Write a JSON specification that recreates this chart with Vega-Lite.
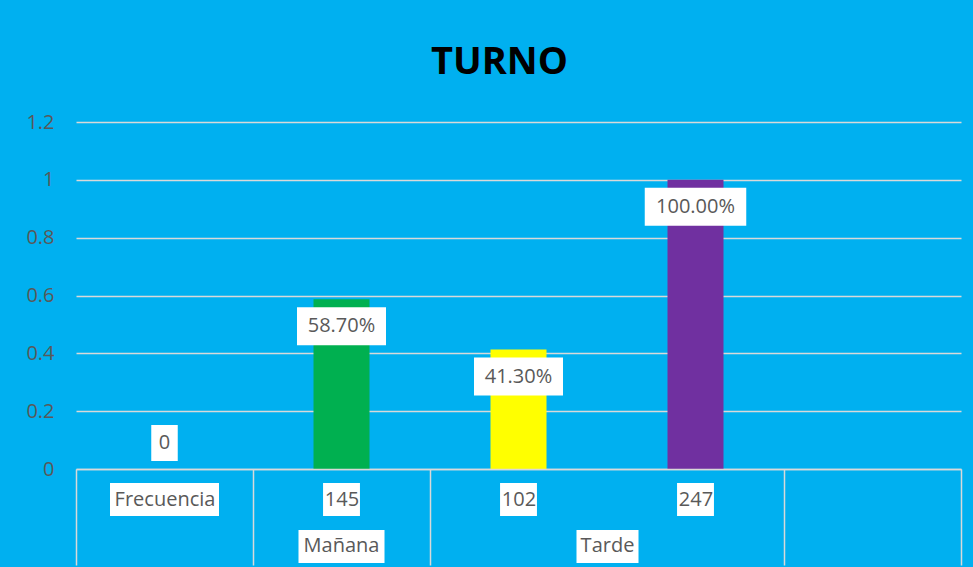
{
  "$schema": "https://vega.github.io/schema/vega-lite/v6.json",
  "autosize": {"type": "none"},
  "width": 885,
  "height": 347,
  "padding": {"left": 76, "top": 122, "right": 12, "bottom": 98},
  "background": "#00B0F0",
  "config": {"view": {"stroke": null}, "font": "Open Sans"},
  "title": {"text": "TURNO", "font": "Open Sans", "fontSize": 38, "fontWeight": "bold", "color": "#000000", "anchor": "middle", "dx": -19, "baseline": "alphabetic", "offset": 0},
  "data": {
    "values": [
      {"cat": "Frecuencia", "turno": "", "value": 0, "label": "0"},
      {"cat": "145", "turno": "Mañana", "value": 0.587, "label": "58.70%"},
      {"cat": "102", "turno": "Tarde", "value": 0.413, "label": "41.30%"},
      {"cat": "247", "turno": "Tarde", "value": 1.0, "label": "100.00%"}
    ]
  },
  "encoding": {
    "x": {
      "field": "cat", "type": "nominal", "sort": null,
      "scale": {"domain": ["Frecuencia", "145", "102", "247", " "], "paddingInner": 0, "paddingOuter": 0},
      "axis": {
        "title": null, "zindex": 1, "labelAngle": 0, "labelOverlap": false,
        "domainColor": "#D9D9D9", "domainWidth": 1.5,
        "tickBand": "extent", "tickSize": 96, "tickWidth": 1.5,
        "tickColor": {"condition": {"test": "datum.value === '102'", "value": "transparent"}, "value": "#D9D9D9"},
        "labelFont": "Open Sans", "labelFontSize": 20, "labelColor": "#595959",
        "labelBaseline": "middle", "labelPadding": -66
      }
    },
    "y": {
      "field": "value", "type": "quantitative",
      "scale": {"domain": [0, 1.2], "nice": false},
      "axis": {
        "title": null, "values": [0, 0.2, 0.4, 0.6, 0.8, 1, 1.2], "format": "~g",
        "domain": false, "ticks": false, "labelPadding": 22,
        "labelFont": "Open Sans", "labelFontSize": 20, "labelColor": "#595959",
        "gridColor": "#D9D9D9", "gridWidth": 1.5
      }
    }
  },
  "layer": [
    {
      "mark": {"type": "bar", "width": 56},
      "encoding": {
        "color": {"field": "cat", "type": "nominal", "scale": {"domain": ["Frecuencia", "145", "102", "247"], "range": ["#00B0F0", "#00B050", "#FFFF00", "#7030A0"]}, "legend": null}
      }
    },
    {
      "mark": {"type": "bar", "color": "#FFFFFF",
        "width": {"expr": "length(datum.label)*12.5+14"},
        "yOffset": {"expr": "datum.value > 0 ? 8 : -44"},
        "y2Offset": {"expr": "datum.value > 0 ? 46 : -8"}},
      "encoding": {"y2": {"field": "value"}}
    },
    {
      "mark": {"type": "text", "font": "Open Sans", "fontSize": 20, "color": "#595959", "baseline": "middle",
        "yOffset": {"expr": "datum.value > 0 ? 27 : -26"}},
      "encoding": {"text": {"field": "label"}}
    },
    {
      "mark": {"type": "bar", "color": "#FFFFFF",
        "width": {"expr": "length(datum.cat)*10.3+6"},
        "yOffset": 14, "y2Offset": 47},
      "encoding": {"y": {"datum": 0}, "y2": {"datum": 0}}
    },
    {
      "transform": [{"filter": "datum.cat === '145'"}],
      "mark": {"type": "bar", "color": "#FFFFFF", "width": 86, "yOffset": 61, "y2Offset": 94},
      "encoding": {"y": {"datum": 0}, "y2": {"datum": 0}}
    },
    {
      "transform": [{"filter": "datum.cat === '102'"}],
      "mark": {"type": "bar", "color": "#FFFFFF", "width": 62, "xOffset": 89, "yOffset": 61, "y2Offset": 94},
      "encoding": {"y": {"datum": 0}, "y2": {"datum": 0}}
    },
    {
      "transform": [{"filter": "datum.cat === '145'"}],
      "mark": {"type": "text", "font": "Open Sans", "fontSize": 20, "color": "#595959", "baseline": "middle", "yOffset": 77},
      "encoding": {"y": {"datum": 0}, "text": {"field": "turno"}}
    },
    {
      "transform": [{"filter": "datum.cat === '102'"}],
      "mark": {"type": "text", "font": "Open Sans", "fontSize": 20, "color": "#595959", "baseline": "middle", "xOffset": 89, "yOffset": 77},
      "encoding": {"y": {"datum": 0}, "text": {"field": "turno"}}
    }
  ]
}
